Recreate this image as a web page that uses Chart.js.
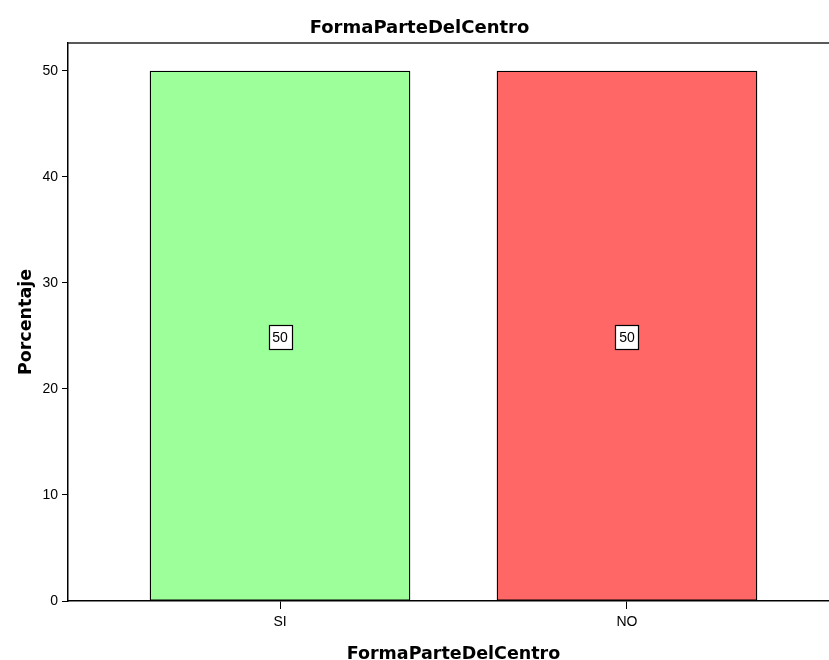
<!DOCTYPE html>
<html><head><meta charset="utf-8">
<script src="https://cdn.jsdelivr.net/npm/chart.js@4"></script>
<style>html,body{margin:0;padding:0;background:#fff;overflow:hidden}#wrap{width:829px;height:660px;overflow:hidden}</style>
</head><body><div id="wrap"><canvas id="c" width="839" height="668" style="width:839px;height:668px"></canvas></div>
<script>
const categories = ['SI', 'NO'];
const percentages = [50, 50];
const barColors = ['#9dff99', '#ff6666'];
const yTicks = [0, 10, 20, 30, 40, 50];
const chartTitle = 'FormaParteDelCentro';
const xTitle = 'FormaParteDelCentro';
const yTitle = 'Porcentaje';

const FONT = "'DejaVu Sans', sans-serif";
const TICKFONT = "'Liberation Sans', Arial, sans-serif";

const labelBoxes = {
  id: 'labelBoxes',
  afterDatasetsDraw(chart) {
    const ctx = chart.ctx;
    const meta = chart.getDatasetMeta(0);
    const ys = chart.scales.y;
    ctx.save();
    ctx.font = '14px ' + TICKFONT;
    ctx.textAlign = 'center';
    ctx.textBaseline = 'middle';
    meta.data.forEach((el, i) => {
      const v = percentages[i];
      const txt = String(v);
      const cy = ys.getPixelForValue(v / 2);
      const w = Math.round(ctx.measureText(txt).width) + 7;
      const h = 24;
      const x0 = Math.round(el.x - w / 2) + 0.5, y0 = Math.round(cy - h / 2) + 1.5;
      ctx.fillStyle = '#fff';
      ctx.fillRect(x0, y0, w, h);
      ctx.strokeStyle = '#000';
      ctx.lineWidth = 1.2;
      ctx.strokeRect(x0, y0, w, h);
      ctx.fillStyle = '#000';
      ctx.fillText(txt, el.x, cy + 2);
    });
    ctx.restore();
  }
};

const frame = {
  id: 'frame',
  afterDraw(chart) {
    const a = chart.chartArea, ctx = chart.ctx;
    ctx.save();
    ctx.strokeStyle = '#222';
    ctx.lineWidth = 1.5;
    ctx.beginPath();
    ctx.moveTo(a.left, a.top);
    ctx.lineTo(a.right, a.top);
    ctx.stroke();
    ctx.restore();
  }
};

new Chart(document.getElementById('c'), {
  type: 'bar',
  data: {
    datasets: [{
      data: categories.map((c, i) => ({ x: i, y: percentages[i] })),
      backgroundColor: barColors,
      borderColor: '#000',
      borderWidth: 1.3,
      borderSkipped: false,
      barThickness: 260
    }]
  },
  options: {
    responsive: false,
    animation: false,
    devicePixelRatio: 1,
    layout: { padding: { left: 0, right: 0, top: 0, bottom: 0 } },
    plugins: {
      legend: { display: false },
      tooltip: { enabled: false },
      title: {
        display: true, text: chartTitle, color: '#000',
        font: { family: FONT, size: 18, weight: 'bold' },
        padding: { top: 18, bottom: 3.4 }
      }
    },
    scales: {
      x: {
        type: 'linear',
        offset: false,
        min: -0.611, max: 1.611,
        afterBuildTicks(s) { s.ticks = categories.map((c, i) => ({ value: i })); },
        afterFit(s) { s.height = 67; },
        ticks: {
          color: '#000', font: { family: TICKFONT, size: 14 }, padding: 5,
          autoSkip: false, maxRotation: 0,
          callback: (v) => categories[v]
        },
        grid: { offset: false, drawOnChartArea: false, drawTicks: true, tickLength: 8, color: '#000', tickWidth: 1 },
        border: { display: true, color: '#000', width: 1.5 },
        title: {
          display: true, text: xTitle, color: '#000',
          font: { family: FONT, size: 17.5, weight: 'bold' },
          padding: { top: 0, bottom: 3.5 }
        }
      },
      y: {
        min: 0, max: 52.64,
        afterBuildTicks(s) { s.ticks = yTicks.map(v => ({ value: v })); },
        afterFit(s) { s.width = 68; },
        ticks: { color: '#000', font: { family: TICKFONT, size: 14 }, padding: 4 },
        grid: { drawOnChartArea: false, drawTicks: true, tickLength: 6, color: '#000', tickWidth: 1 },
        border: { display: true, color: '#000', width: 1.5 },
        title: {
          display: true, text: yTitle, color: '#000',
          font: { family: FONT, size: 17.5, weight: 'bold' },
          padding: { top: 16, bottom: 0 }
        }
      }
    }
  },
  plugins: [labelBoxes, frame]
});
</script></body></html>
